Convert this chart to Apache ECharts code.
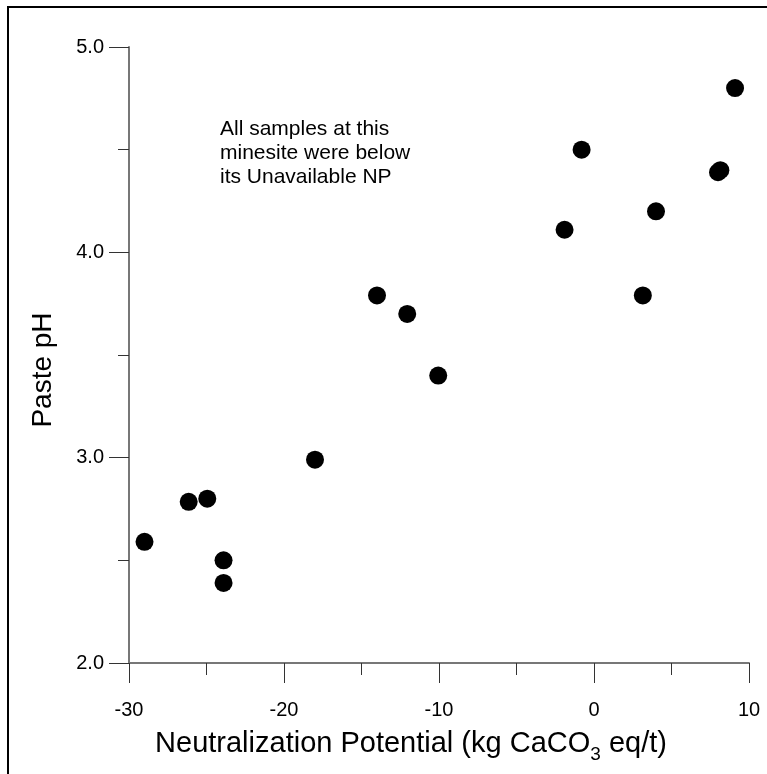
<!DOCTYPE html>
<html>
<head>
<meta charset="utf-8">
<script src="https://cdn.jsdelivr.net/npm/echarts@6/dist/echarts.min.js"></script>
<style>
html,body{margin:0;padding:0;background:#fff;}
#chart{width:767px;height:774px;}
</style>
</head>
<body>
<div id="chart"></div>
<script>
// Data
const npValues = [-29, -26.15, -24.95, -23.9, -23.9, -18, -14, -12.05, -10.05, -1.9, -0.8, 3.15, 4.0, 8.0, 8.15, 9.1];
const phValues = [2.59, 2.785, 2.80, 2.50, 2.39, 2.99, 3.79, 3.70, 3.40, 4.11, 4.50, 3.79, 4.20, 4.39, 4.40, 4.80];
const xTickValues = [-30, -20, -10, 0, 10];
const yTickValues = [2.0, 3.0, 4.0, 5.0];
const annotationLines = ['All samples at this', 'minesite were below', 'its Unavailable NP'];

const font = 'Liberation Sans, Arial, sans-serif';
const chart = echarts.init(document.getElementById('chart'), null, {renderer: 'canvas'});

const points = npValues.map((x, i) => [x, phValues[i]]);

chart.setOption({
  animation: false,
  backgroundColor: '#fff',
  grid: {left: 129, right: 18, top: 47, bottom: 111, containLabel: false},
  xAxis: {
    type: 'value',
    min: xTickValues[0], max: xTickValues[xTickValues.length - 1], interval: 10,
    name: '{a|Neutralization Potential (kg CaCO}{s|3}{a| eq/t)}',
    nameLocation: 'middle',
    nameGap: 66,
    nameTextStyle: {
      padding: [0, 56, 0, 0],
      rich: {
        a: {fontFamily: font, fontSize: 29, color: '#000', lineHeight: 32, verticalAlign: 'top'},
        s: {fontFamily: font, fontSize: 19, color: '#000', lineHeight: 18, padding: [16, 0, 0, 0], verticalAlign: 'top'}
      }
    },
    axisLine: {show: true, onZero: false, lineStyle: {color: '#777', width: 2}},
    axisTick: {show: true, length: 20, lineStyle: {color: '#333', width: 1}},
    minorTick: {show: true, splitNumber: 2, length: 12, lineStyle: {color: '#333', width: 1}},
    splitLine: {show: false},
    minorSplitLine: {show: false},
    axisLabel: {margin: 37, fontFamily: font, fontSize: 20, color: '#000', formatter: v => String(v)}
  },
  yAxis: {
    type: 'value',
    min: yTickValues[0], max: yTickValues[yTickValues.length - 1], interval: 1,
    name: 'Paste pH',
    nameLocation: 'middle',
    nameGap: 72,
    nameTextStyle: {fontFamily: font, fontSize: 28, color: '#000', padding: [0, 30, 0, 0]},
    axisLine: {show: true, onZero: false, lineStyle: {color: '#777', width: 2}},
    axisTick: {show: true, length: 20, lineStyle: {color: '#333', width: 1}},
    minorTick: {show: true, splitNumber: 2, length: 11, lineStyle: {color: '#333', width: 1}},
    splitLine: {show: false},
    minorSplitLine: {show: false},
    axisLabel: {margin: 25, fontFamily: font, fontSize: 20, color: '#000', formatter: v => v.toFixed(1)}
  },
  series: [{
    type: 'scatter',
    data: points,
    symbol: 'circle',
    symbolSize: 18,
    itemStyle: {color: '#000', opacity: 1},
    silent: true
  }],
  graphic: [
    {
      type: 'rect', silent: true, z: 100,
      shape: {x: 8, y: 7, width: 900, height: 900},
      style: {fill: 'none', stroke: '#000', lineWidth: 2}
    },
    {
      type: 'text', silent: true, left: 220, top: 117,
      style: {
        text: annotationLines.join('\n'),
        fontFamily: font, fontSize: 21, lineHeight: 24, fill: '#000'
      }
    }
  ]
});
</script>
</body>
</html>
